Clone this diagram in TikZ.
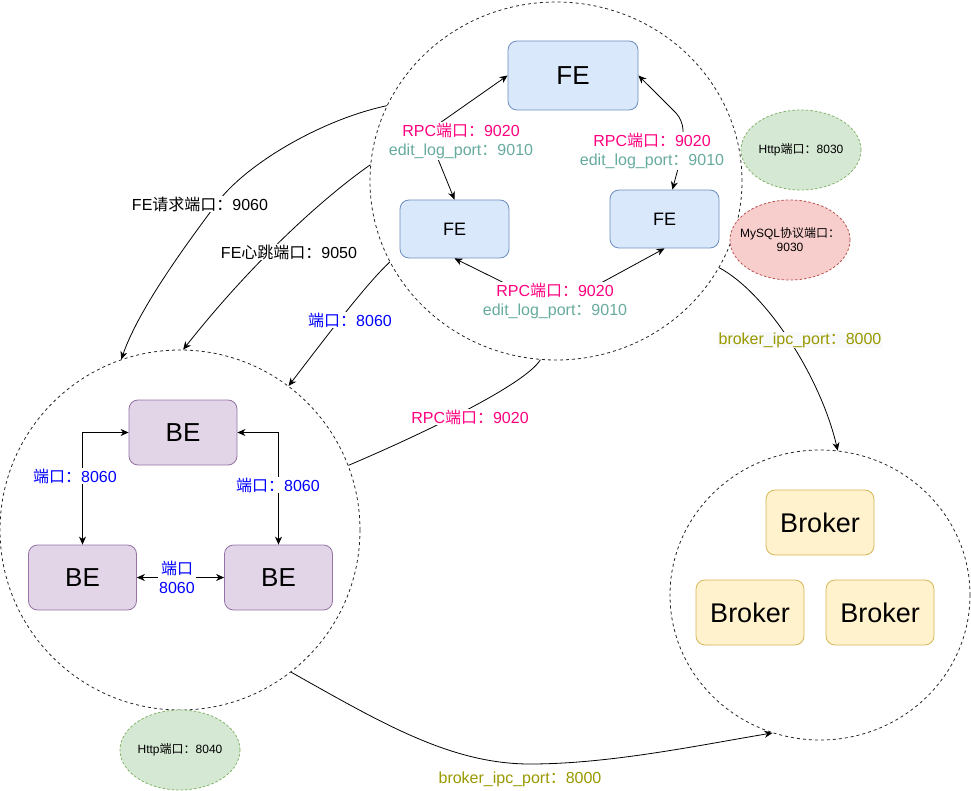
\documentclass[tikz,border=0pt]{standalone}
\usepackage{fontspec}
\setmainfont{Liberation Sans}
\newfontfamily\cjk{Noto Sans CJK SC}
\usepackage{xcolor}
\usepackage{tikz}
\usetikzlibrary{shapes.geometric,arrows.meta}

\definecolor{feFill}{HTML}{DAE8FC}
\definecolor{feLine}{HTML}{6C8EBF}
\definecolor{beFill}{HTML}{E1D5E7}
\definecolor{beLine}{HTML}{9673A6}
\definecolor{brFill}{HTML}{FFF2CC}
\definecolor{brLine}{HTML}{D6B656}
\definecolor{okFill}{HTML}{D5E8D4}
\definecolor{okLine}{HTML}{82B366}
\definecolor{sqlFill}{HTML}{F8CECC}
\definecolor{sqlLine}{HTML}{B85450}
\definecolor{rpcPink}{HTML}{FF0080}
\definecolor{logTeal}{HTML}{67AB9F}
\definecolor{portBlue}{HTML}{0000FF}
\definecolor{ipcOlive}{HTML}{999900}
\definecolor{lblBg}{HTML}{F8F9FA}

\newcommand{\zh}[1]{{\cjk #1}}

\begin{document}
\begin{tikzpicture}[x=1pt,y=-1pt,
    >={Stealth[length=8pt,width=7pt,inset=2.5pt]},
    grp/.style={ellipse,draw=black!85,dashed,line width=0.8pt,inner sep=0pt},
    fenode/.style={rectangle,rounded corners=9pt,draw=feLine,fill=feFill,line width=0.8pt},
    benode/.style={rectangle,rounded corners=9pt,draw=beLine,fill=beFill,line width=0.8pt,
        minimum width=108pt,minimum height=65pt,font=\fontsize{26}{30}\selectfont},
    brnode/.style={rectangle,rounded corners=9pt,draw=brLine,fill=brFill,line width=0.8pt,
        minimum width=108pt,minimum height=65pt,font=\fontsize{27}{31}\selectfont},
    portell/.style={ellipse,dash pattern=on 2.5pt off 2pt,line width=0.8pt,minimum width=120pt,minimum height=80pt,
        inner sep=0pt,align=center,font=\fontsize{12}{14}\selectfont},
    lbl/.style={fill=white,inner sep=1pt,align=center,font=\fontsize{16}{19}\selectfont},
    link/.style={line width=0.8pt}]

    \useasboundingbox (0,0) rectangle (971,791);

    % Groups
    \node[grp,minimum width=372pt,minimum height=358pt] (fegrp) at (556,181) {};
    \node[grp,minimum width=360pt,minimum height=360pt] (begrp) at (180,530) {};
    \node[grp,minimum width=300pt,minimum height=290pt] (brgrp) at (820,595) {};

    % FE nodes
    \node[fenode,minimum width=130pt,minimum height=69pt,font=\fontsize{26}{30}\selectfont] (fetop) at (573,75.5) {FE};
    \node[fenode,minimum width=109pt,minimum height=58pt,font=\fontsize{18}{22}\selectfont] (feleft) at (454.5,229) {FE};
    \node[fenode,minimum width=109pt,minimum height=58pt,font=\fontsize{18}{22}\selectfont] (feright) at (664.5,219) {FE};

    % BE nodes
    \node[benode] (betop) at (183,432.5) {BE};
    \node[benode] (beleft) at (82.5,577.5) {BE};
    \node[benode] (beright) at (278.5,577.5) {BE};

    % Broker nodes
    \node[brnode] (brtop) at (820,522.5) {Broker};
    \node[brnode] (brleft) at (750,612.5) {Broker};
    \node[brnode] (brright) at (880,612.5) {Broker};

    % Extra ports
    \node[portell,draw=okLine,fill=okFill] (fehttp) at (801,150) {Http\zh{端口：}8030};
    \node[portell,draw=sqlLine,fill=sqlFill,inner xsep=-8pt] (fesql) at (790,240) {MySQL\zh{协议端口：}\\9030};
    \node[portell,draw=okLine,fill=okFill] (behttp) at (180,750) {Http\zh{端口：}8040};

    % Links inside FE group
    \draw[link,<->] (feleft.north) -- (427,132) -- (fetop.west);
    \draw[link,<->,rounded corners=10pt] (feright.75) -- (683,150) -- (683,120) -- (fetop.east);
    \draw[link,<->] (feleft.south) -- (555,308) -- (feright.south);

    % Links inside BE group
    \draw[link,<->] (beleft.north) |- (betop.west);
    \draw[link,<->] (beright.north) |- (betop.east);
    \draw[link,<->] (beleft.east) -- (beright.west);

    % Links between groups
    \draw[link,->] (fegrp.156) .. controls (320,120) and (245,165) .. (217,203)
        .. controls (195,233) and (140,305) .. (begrp.109);
    \draw[link,->] (fegrp.175) .. controls (320,200) and (250,265) .. (begrp.89);
    \draw[link,->] (fegrp.206) .. controls (365,285) and (320,345) .. (begrp.53);
    \draw[link] (begrp.21) .. controls (420,435) and (525,385) .. (fegrp.265);
    \draw[link,->] (fegrp.332) .. controls (765,292) and (820,375) .. (brgrp.83);
    \draw[link,->] (begrp.308) .. controls (380,722) and (450,764) .. (530,764)
        .. controls (610,764) and (700,745) .. (brgrp.251);

    % Labels
    \node[lbl] (rpcA) at (461,141) {\textcolor{rpcPink}{RPC\zh{端口：}9020}\\\textcolor{logTeal}{edit\_log\_port\zh{：}9010}};
    \node[lbl] (rpcB) at (652,151) {\textcolor{rpcPink}{RPC\zh{端口：}9020}\\\textcolor{logTeal}{edit\_log\_port\zh{：}9010}};
    \node[lbl] (rpcC) at (555,301) {\textcolor{rpcPink}{RPC\zh{端口：}9020}\\\textcolor{logTeal}{edit\_log\_port\zh{：}9010}};
    \node[lbl,text=portBlue] (beA) at (75,476) {\zh{端口：}8060};
    \node[lbl,text=portBlue] (beB) at (278,485) {\zh{端口：}8060};
    \node[lbl,text=portBlue] (beC) at (177,577) {\zh{端口}\\8060};
    \node[lbl] (reqlbl) at (200,204) {FE\zh{请求端口：}9060};
    \node[lbl] (hblbl) at (289,252) {FE\zh{心跳端口：}9050};
    \node[lbl,text=portBlue] (beport) at (350,320) {\zh{端口：}8060};
    \node[lbl,text=rpcPink] (rpclbl) at (470,417) {RPC\zh{端口：}9020};
    \node[lbl,fill=lblBg,text=ipcOlive] (ipcA) at (800,340) {broker\_ipc\_port\zh{：}8000};
    \node[lbl,text=ipcOlive] (ipcB) at (520,779) {broker\_ipc\_port\zh{：}8000};
\end{tikzpicture}
\end{document}
